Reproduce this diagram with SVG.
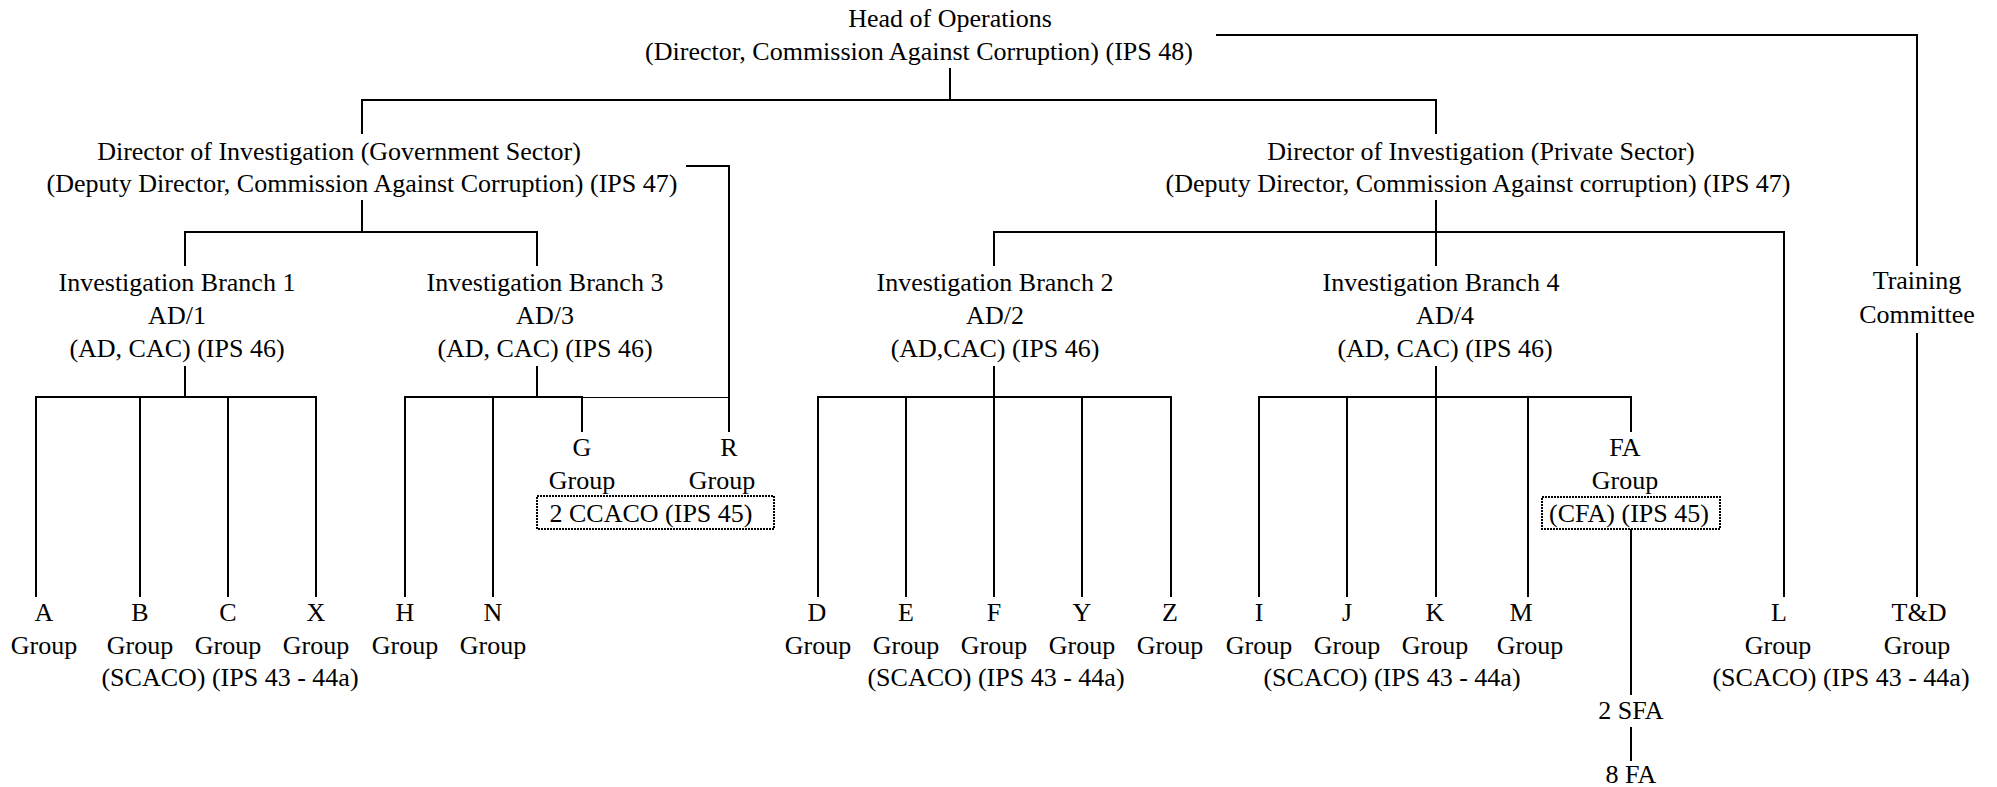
<svg xmlns="http://www.w3.org/2000/svg" width="1997" height="787" viewBox="0 0 1997 787">
<style>
text{font-family:"Liberation Serif","Times New Roman",serif;font-size:26px;fill:#000;text-anchor:middle}
.ln{fill:none;stroke:#000;stroke-width:2}
.thin{fill:none;stroke:#000;stroke-width:1}
.box{fill:none;stroke:#000;stroke-width:2;stroke-dasharray:2 1}
</style>
<rect width="1997" height="787" fill="#fff"/>
<g id="connectors">
<path class="ln" d="M950,68 V100"/>
<path class="ln" d="M362,134 V100 H1436 V134"/>
<path class="ln" d="M1216,35 H1917 V266"/>
<path class="ln" d="M362,200 V232"/>
<path class="ln" d="M185,266 V232 H537 V266"/>
<path class="ln" d="M686,166 H729 V432"/>
<path class="thin" d="M582,397.5 H729"/>
<path class="ln" d="M185,366 V397"/>
<path class="ln" d="M36,597 V397 H316 V597"/>
<path class="ln" d="M140,397 V597"/>
<path class="ln" d="M228,397 V597"/>
<path class="ln" d="M537,366 V397"/>
<path class="ln" d="M405,597 V397 H582 V432"/>
<path class="ln" d="M493,397 V597"/>
<path class="ln" d="M1436,200 V266"/>
<path class="ln" d="M994,266 V232 H1784 V597"/>
<path class="ln" d="M994,366 V597"/>
<path class="ln" d="M818,597 V397 H1171 V597"/>
<path class="ln" d="M906,397 V597"/>
<path class="ln" d="M1082,397 V597"/>
<path class="ln" d="M1436,366 V597"/>
<path class="ln" d="M1259,597 V397 H1631 V432"/>
<path class="ln" d="M1347,397 V597"/>
<path class="ln" d="M1528,397 V597"/>
<path class="ln" d="M1631,529 V695"/>
<path class="ln" d="M1631,727 V761"/>
<path class="ln" d="M1917,333 V597"/>
</g>
<g id="head">
<text x="950" y="27">Head of Operations</text>
<text x="919" y="60">(Director, Commission Against Corruption) (IPS 48)</text>
</g>
<g id="dir-gov">
<text x="339" y="160">Director of Investigation (Government Sector)</text>
<text x="362" y="192">(Deputy Director, Commission Against Corruption) (IPS 47)</text>
</g>
<g id="dir-priv">
<text x="1481" y="160">Director of Investigation (Private Sector)</text>
<text x="1478" y="192">(Deputy Director, Commission Against corruption) (IPS 47)</text>
</g>
<g id="branch1">
<text x="177" y="291">Investigation Branch 1</text>
<text x="177" y="324">AD/1</text>
<text x="177" y="357">(AD, CAC) (IPS 46)</text>
</g>
<g id="branch3">
<text x="545" y="291">Investigation Branch 3</text>
<text x="545" y="324">AD/3</text>
<text x="545" y="357">(AD, CAC) (IPS 46)</text>
</g>
<g id="branch2">
<text x="995" y="291">Investigation Branch 2</text>
<text x="995" y="324">AD/2</text>
<text x="995" y="357">(AD,CAC) (IPS 46)</text>
</g>
<g id="branch4">
<text x="1441" y="291">Investigation Branch 4</text>
<text x="1445" y="324">AD/4</text>
<text x="1445" y="357">(AD, CAC) (IPS 46)</text>
</g>
<g id="training">
<text x="1917" y="289">Training</text>
<text x="1917" y="323">Committee</text>
</g>
<g id="group-g">
<text x="582" y="456">G</text>
<text x="582" y="489">Group</text>
</g>
<g id="group-r">
<text x="729" y="456">R</text>
<text x="722" y="489">Group</text>
</g>
<g id="ccaco">
<rect class="box" x="537" y="496" width="237" height="33"/>
<text x="651" y="522">2 CCACO (IPS 45)</text>
</g>
<g id="group-fa">
<text x="1625" y="456">FA</text>
<text x="1625" y="489">Group</text>
<rect class="box" x="1542" y="497" width="178" height="32"/>
<text x="1629" y="522">(CFA) (IPS 45)</text>
</g>
<g id="group-a"><text x="44" y="621">A</text><text x="44" y="654">Group</text></g>
<g id="group-b"><text x="140" y="621">B</text><text x="140" y="654">Group</text></g>
<g id="group-c"><text x="228" y="621">C</text><text x="228" y="654">Group</text></g>
<g id="group-x"><text x="316" y="621">X</text><text x="316" y="654">Group</text></g>
<g id="scaco-1"><text x="230" y="686">(SCACO) (IPS 43 - 44a)</text></g>
<g id="group-h"><text x="405" y="621">H</text><text x="405" y="654">Group</text></g>
<g id="group-n"><text x="493" y="621">N</text><text x="493" y="654">Group</text></g>
<g id="group-d"><text x="817" y="621">D</text><text x="818" y="654">Group</text></g>
<g id="group-e"><text x="906" y="621">E</text><text x="906" y="654">Group</text></g>
<g id="group-f"><text x="994" y="621">F</text><text x="994" y="654">Group</text></g>
<g id="group-y"><text x="1082" y="621">Y</text><text x="1082" y="654">Group</text></g>
<g id="group-z"><text x="1170" y="621">Z</text><text x="1170" y="654">Group</text></g>
<g id="scaco-2"><text x="996" y="686">(SCACO) (IPS 43 - 44a)</text></g>
<g id="group-i"><text x="1259" y="621">I</text><text x="1259" y="654">Group</text></g>
<g id="group-j"><text x="1347" y="621">J</text><text x="1347" y="654">Group</text></g>
<g id="group-k"><text x="1435" y="621">K</text><text x="1435" y="654">Group</text></g>
<g id="group-m"><text x="1521" y="621">M</text><text x="1530" y="654">Group</text></g>
<g id="scaco-4"><text x="1392" y="686">(SCACO) (IPS 43 - 44a)</text></g>
<g id="sfa"><text x="1631" y="719">2 SFA</text></g>
<g id="fa8"><text x="1631" y="783">8 FA</text></g>
<g id="group-l"><text x="1779" y="621">L</text><text x="1778" y="654">Group</text></g>
<g id="group-td"><text x="1919" y="621">T&amp;D</text><text x="1917" y="654">Group</text></g>
<g id="scaco-l"><text x="1841" y="686">(SCACO) (IPS 43 - 44a)</text></g>
</svg>
